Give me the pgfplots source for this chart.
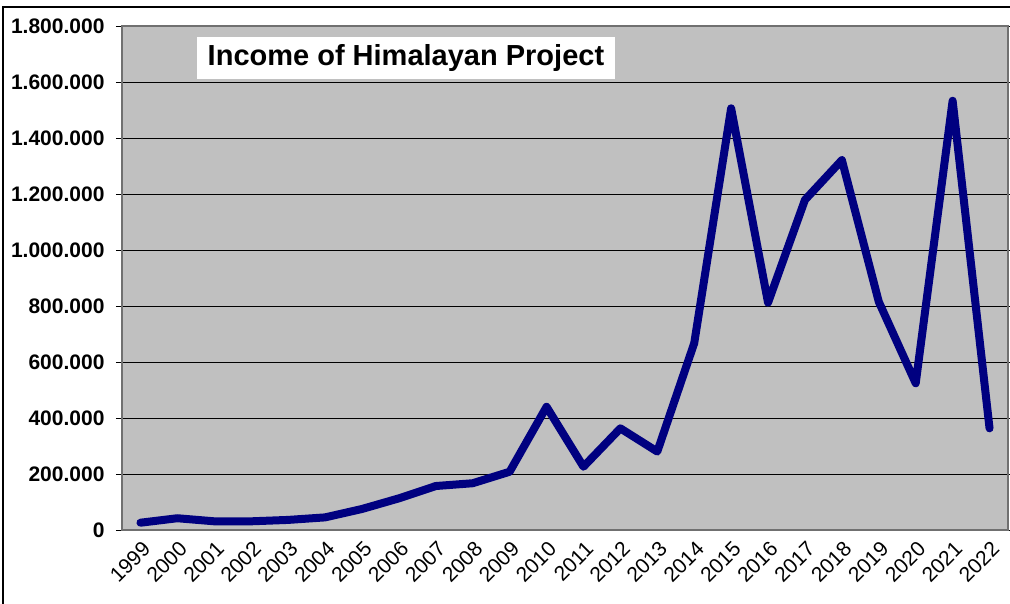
\documentclass[border=0pt]{standalone}
\usepackage{fontspec}
\setmainfont{Liberation Sans}
\usepackage{pgfplots}
\pgfplotsset{compat=1.18}
\definecolor{plotgray}{HTML}{C0C0C0}
\definecolor{framegray}{HTML}{707070}
\definecolor{navy}{HTML}{000080}
\begin{document}
\begin{tikzpicture}[x=1pt,y=1pt]
\useasboundingbox (0,0) rectangle (1010,604);
% outer chart frame (clipped right and bottom)
\draw[line width=1.2pt] (3,-10) -- (3,597) -- (1020,597);
\begin{axis}[
  at={(122pt,74pt)}, anchor=south west,
  scale only axis, width=886pt, height=504pt,
  xmin=-0.5, xmax=23.5, ymin=0, ymax=1800000,
  axis background/.style={fill=plotgray},
  axis line style={draw=framegray, line width=1.5pt},
  xtick={0,...,23},
  xticklabels={1999,2000,2001,2002,2003,2004,2005,2006,2007,2008,2009,2010,2011,2012,2013,2014,2015,2016,2017,2018,2019,2020,2021,2022},
  minor xtick={-0.5,0.5,...,23.5},
  ytick={0,200000,...,1800000},
  scaled y ticks=false,
  tick align=outside,
  major tick length=6pt, minor tick length=6pt,
  xtick style={draw=none},
  minor tick style={draw=black, line width=0.8pt},
  ytick style={draw=black, line width=0.8pt},
  x tick label style={rotate=45, anchor=east, font=\fontsize{21}{21}\selectfont, yshift=-11pt, xshift=1pt},
  y tick label style={font=\fontsize{21}{21}\selectfont\bfseries, xshift=-8pt},
  /pgf/number format/.cd, fixed, 1000 sep={.}, assume math mode=true, /pgfplots/.cd,
  ymajorgrids,
  grid style={draw=black, line width=0.8pt},
  clip=false,
]
\addplot[navy, line width=8pt, line join=round, line cap=round] coordinates {
 (0,26000) (1,42000) (2,31000) (3,31000) (4,36000) (5,45000)
 (6,75000) (7,113000) (8,157000) (9,167000) (10,208000) (11,440000)
 (12,226000) (13,363000) (14,280000) (15,667000) (16,1506000) (17,812000)
 (18,1179000) (19,1321000) (20,815000) (21,524000) (22,1533000) (23,363000)
};
\node[fill=white, minimum width=418pt, minimum height=42pt, inner sep=0pt,
      font=\fontsize{29}{29}\selectfont\bfseries]
  at (rel axis cs:0.3205,0.9365) {Income of Himalayan Project};
\end{axis}
\end{tikzpicture}
\end{document}
